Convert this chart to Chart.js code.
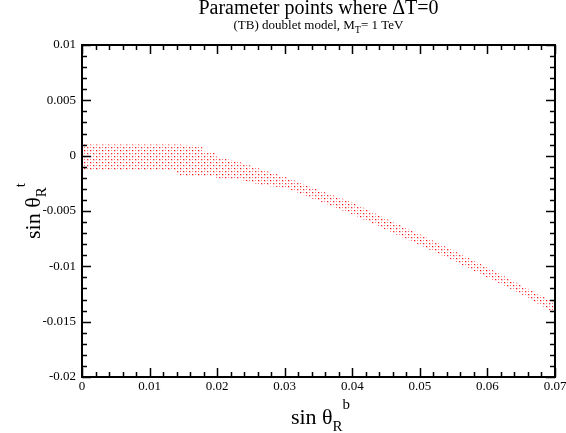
<!DOCTYPE html>
<html><head><meta charset="utf-8">
<script src="https://cdn.jsdelivr.net/npm/chart.js@4/dist/chart.umd.min.js"></script>
<style>html,body{margin:0;padding:0;background:#fff;overflow:hidden}</style>
</head><body>
<canvas id="c" width="566" height="433"></canvas>
<script>
// Band of allowed parameter points (edges)
const bandX     = [-0.0002, 0.005, 0.01, 0.014, 0.0142, 0.0178, 0.018, 0.0197, 0.0199, 0.022, 0.0234, 0.025, 0.0268, 0.03, 0.035, 0.04, 0.045, 0.05, 0.055, 0.06, 0.065, 0.0698];
const bandUpper = [0.001, 0.001, 0.001, 0.001, 0.001, 0.0009, 0.0004, 0.0003, -0.0001, -0.0004, -0.0006, -0.0009, -0.0013, -0.0019, -0.0031, -0.0042, -0.0057, -0.0071, -0.0086, -0.0101, -0.0117, -0.0132];
const bandLower = [-0.0013, -0.0013, -0.0013, -0.0014, -0.0018, -0.0019, -0.0019, -0.0019, -0.0021, -0.0022, -0.0022, -0.0024, -0.0027, -0.0029, -0.0041, -0.0053, -0.0067, -0.0081, -0.0095, -0.0110, -0.0125, -0.0142];

const xTickValues = [0, 0.01, 0.02, 0.03, 0.04, 0.05, 0.06, 0.07];
const xTickLabels = ["0", "0.01", "0.02", "0.03", "0.04", "0.05", "0.06", "0.07"];
const yTickValues = [0.01, 0.005, 0, -0.005, -0.01, -0.015, -0.02];
const yTickLabels = ["0.01", "0.005", "0", "-0.005", "-0.01", "-0.015", "-0.02"];
const xMinorStep = 0.002;
const yMinorStep = 0.001;

const titleText = "Parameter points where \u0394T=0";

const canvas = document.getElementById('c');
const ctx0 = canvas.getContext('2d');

// dotted red texture (style only)
const tile = document.createElement('canvas');
tile.width = 6; tile.height = 6;
const tctx = tile.getContext('2d');
function px(x, y, c){ tctx.fillStyle = c; tctx.fillRect(x, y, 1, 1); }
px(0,0,'rgb(255,10,10)');   px(3,0,'rgb(255,130,130)');
px(0,3,'rgb(255,110,110)'); px(3,3,'rgb(255,40,40)');
px(1,0,'rgb(255,200,200)'); px(4,3,'rgb(255,190,190)');
px(0,1,'rgb(255,205,205)'); px(3,4,'rgb(255,200,200)');
px(1,1,'rgb(255,225,225)'); px(4,4,'rgb(255,225,225)');
const dotPattern = ctx0.createPattern(tile, 'repeat');

const SERIF = '"Liberation Serif", "Times New Roman", serif';

function drawParts(ctx, parts, cx, baseY){
  let total = 0;
  parts.forEach(p => { ctx.font = p.font; p.w = ctx.measureText(p.text).width; total += p.w; });
  let x = cx - total / 2;
  ctx.textAlign = 'left'; ctx.textBaseline = 'alphabetic';
  parts.forEach(p => { ctx.font = p.font; ctx.fillText(p.text, x, baseY + (p.dy || 0)); x += p.w; });
}

const decor = {
  id: 'decor',
  afterDraw(chart){
    const ctx = chart.ctx;
    const xs = chart.scales.x, ys = chart.scales.y;
    const L = chart.chartArea.left, R = chart.chartArea.right, T = chart.chartArea.top, B = chart.chartArea.bottom;
    ctx.save();
    ctx.strokeStyle = '#000'; ctx.fillStyle = '#000';
    ctx.lineWidth = 1.5;
    ctx.beginPath();
    for (let v = xs.min; v <= xs.max + 1e-9; v += xMinorStep) {
      const p = Math.round(xs.getPixelForValue(v)) + 0.5;
      const major = xTickValues.some(t => Math.abs(t - v) < 1e-9);
      const len = major ? 9 : 5;
      ctx.moveTo(p, B); ctx.lineTo(p, B - len);
      ctx.moveTo(p, T); ctx.lineTo(p, T + len);
    }
    for (let v = ys.min; v <= ys.max + 1e-9; v += yMinorStep) {
      const p = Math.round(ys.getPixelForValue(v)) + 0.5;
      const major = yTickValues.some(t => Math.abs(t - v) < 1e-9);
      const len = major ? 9 : 5;
      ctx.moveTo(L, p); ctx.lineTo(L + len, p);
      ctx.moveTo(R, p); ctx.lineTo(R - len, p);
    }
    ctx.stroke();
    ctx.lineWidth = 2;
    ctx.strokeRect(L, T, R - L, B - T);
    ctx.font = '13px ' + SERIF;
    ctx.textAlign = 'center'; ctx.textBaseline = 'top';
    xTickValues.forEach((v, i) => ctx.fillText(xTickLabels[i], xs.getPixelForValue(v), B + 3));
    ctx.textAlign = 'right'; ctx.textBaseline = 'middle';
    yTickValues.forEach((v, i) => ctx.fillText(yTickLabels[i], L - 6, ys.getPixelForValue(v)));
    ctx.textAlign = 'center'; ctx.textBaseline = 'alphabetic';
    ctx.font = '20px ' + SERIF;
    const cx = (L + R) / 2;
    ctx.fillText(titleText, cx, 14);
    drawParts(ctx, [
      {text: '(TB) doublet model, M', font: '13px ' + SERIF},
      {text: 'T', font: '10px ' + SERIF, dy: 4},
      {text: '= 1 TeV', font: '13px ' + SERIF}
    ], cx, 29);
    drawParts(ctx, [
      {text: 'sin \u03b8', font: '22px ' + SERIF},
      {text: 'R', font: '15px ' + SERIF, dy: 7},
      {text: 'b', font: '15px ' + SERIF, dy: -15}
    ], cx + 2, 424);
    ctx.translate(40, (T + B) / 2);
    ctx.rotate(-Math.PI / 2);
    drawParts(ctx, [
      {text: 'sin \u03b8', font: '22px ' + SERIF},
      {text: 'R', font: '15px ' + SERIF, dy: 6},
      {text: 't', font: '15px ' + SERIF, dy: -15}
    ], 0, 0);
    ctx.restore();
  }
};

new Chart(canvas, {
  type: 'line',
  data: {
    datasets: [
      { label: 'upper', data: bandX.map((x, i) => ({x, y: bandUpper[i]})), borderWidth: 0, pointRadius: 0, tension: 0, fill: false, borderColor: 'rgba(0,0,0,0)' },
      { label: 'lower', data: bandX.map((x, i) => ({x, y: bandLower[i]})), borderWidth: 0, pointRadius: 0, tension: 0, fill: '-1', borderColor: 'rgba(0,0,0,0)', backgroundColor: dotPattern }
    ]
  },
  options: {
    responsive: false,
    animation: false,
    devicePixelRatio: 1,
    layout: { padding: { left: 82, top: 45, right: 11, bottom: 56 } },
    plugins: { legend: { display: false }, tooltip: { enabled: false }, title: { display: false } },
    scales: {
      x: { type: 'linear', min: 0, max: 0.07, display: false },
      y: { type: 'linear', min: -0.02, max: 0.01, display: false }
    }
  },
  plugins: [decor]
});
</script>
</body></html>
